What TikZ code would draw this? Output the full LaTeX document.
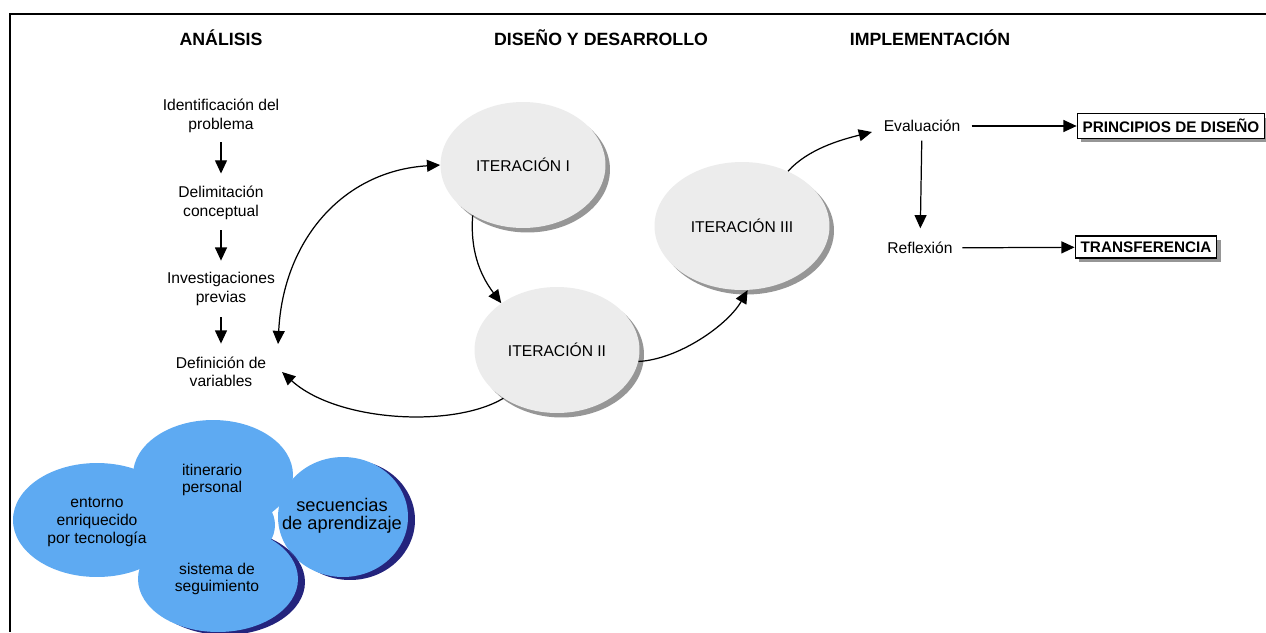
\documentclass[tikz,border=0pt]{standalone}
\usepackage{fontspec}
\setmainfont{Liberation Sans}
\usetikzlibrary{arrows.meta,shapes.geometric,calc,shadows}
\definecolor{cloudblue}{RGB}{94,170,242}
\definecolor{cloudshadow}{RGB}{36,36,125}
\definecolor{ellgray}{RGB}{236,236,236}
\definecolor{ellshadow}{RGB}{150,150,150}
\begin{document}
\begin{tikzpicture}[x=0.02cm,y=-0.02cm,
  txt/.style={font=\fontsize{8.9}{10.5}\selectfont, align=center, inner sep=2pt},
  ctxt/.style={font=\fontsize{8.9}{10}\selectfont, align=center, inner sep=2pt},
  hdr/.style={font=\fontsize{10.1}{12}\selectfont\bfseries, inner sep=2pt},
  iter/.style={ellipse, fill=ellgray, minimum width=3.3cm, minimum height=2.52cm, inner sep=0pt,
    font=\fontsize{8.9}{10.5}\selectfont,
    drop shadow={shadow xshift=0.09cm, shadow yshift=-0.09cm, fill=ellshadow, opacity=1}},
  arr/.style={-{Triangle[length=7.5pt,width=6.8pt]}, line width=0.7pt},
  darr/.style={{Triangle[length=7.5pt,width=6.8pt]}-{Triangle[length=7.5pt,width=6.8pt]}, line width=0.7pt},
  box/.style={draw, line width=0.6pt, fill=white, inner xsep=0.11cm, inner ysep=0pt,
    font=\fontsize{8.7}{10}\selectfont\bfseries,
    drop shadow={shadow xshift=0.08cm, shadow yshift=-0.08cm, fill=ellshadow, opacity=1}},
]
\useasboundingbox (0,0) rectangle (1266,632);
\fill[white] (0,0) rectangle (1266,632);

% frame
\draw[line width=1.7pt] (1266,14) -- (10,14) -- (10,632);

% headers
\node[hdr] (hA) at (221,38) {ANÁLISIS};
\node[hdr] (hD) at (601,38) {DISEÑO Y DESARROLLO};
\node[hdr] (hI) at (930,38) {IMPLEMENTACIÓN};

% analysis column
\node[txt] (p1) at (221,116) {Identificación del\\problema};
\node[txt] (p2) at (221,203) {Delimitación\\conceptual};
\node[txt] (p3) at (221,289) {Investigaciones\\previas};
\node[txt] (p4) at (221,372) {Definición de\\variables};
\draw[arr, shorten <=1.2mm, shorten >=1.8mm] (p1) -- (p2);
\draw[arr, shorten <=1.4mm, shorten >=1.6mm] (p2) -- (p3);
\draw[arr, shorten <=1.6mm, shorten >=1.9mm] (p3) -- (p4);

% iterations
\node[iter] (i1) at (523,165) {ITERACIÓN I};
\node[iter] (i2) at (557,350) {ITERACIÓN II};
\node[iter, minimum width=3.5cm, minimum height=2.56cm] (i3) at (742,226) {ITERACIÓN III};

% implementation
\node[txt] (ev) at (922,126) {Evaluación};
\node[txt] (rf) at (920,248) {Reflexión};
\node[box, minimum height=0.5cm] (pr) at (1171,126) {PRINCIPIOS DE DISEÑO};
\node[box, minimum height=0.44cm] (tr) at (1146,247) {TRANSFERENCIA};

% connectors
\draw[darr] ($(p4.north east)+(8,-9)$) .. controls +(5,-103) and +(-98,6) .. (i1.west);
\draw[arr] (i1.225) .. controls +(-3,40) and +(-18,-24) .. (i2.140);
\draw[arr] (i2.-8) .. controls +(40,-2) and +(-20,35) .. (i3.-85);
\draw[arr] (i2.222) .. controls +(-50,30) and +(55,50) .. ($(p4.east)+(12,0)$);
\draw[arr] (i3.50) .. controls +(20,-22) and +(-32,8) .. ($(ev.west)+(-8,6)$);
\draw[arr, shorten <=1.5mm] (ev) -- (pr);
\draw[arr, shorten <=1mm, shorten >=2mm] (ev) -- (rf);
\draw[arr, shorten <=1.2mm] (rf) -- (tr);

% cloud
\fill[cloudshadow] (350,520) ellipse [x radius=1.3cm, y radius=1.2cm];
\fill[cloudshadow] (225,582) ellipse [x radius=1.6cm, y radius=1.06cm];
\fill[cloudblue] (97,520) ellipse [x radius=1.68cm, y radius=1.14cm];
\fill[cloudblue] (213,475) ellipse [x radius=1.6cm, y radius=1.1cm];
\fill[cloudblue] (205,525) ellipse [x radius=1.4cm, y radius=0.9cm];
\fill[cloudblue] (343,517) ellipse [x radius=1.3cm, y radius=1.2cm];
\begin{scope}
  \clip (343,517) ellipse [x radius=1.3cm, y radius=1.2cm];
  \fill[cloudshadow] (225,582) ellipse [x radius=1.6cm, y radius=1.06cm];
\end{scope}
\fill[cloudblue] (218,579) ellipse [x radius=1.6cm, y radius=1.06cm];

\node[ctxt] (c1) at (97,522) {entorno\\enriquecido\\por tecnología};
\node[ctxt] (c2) at (212,480) {itinerario\\personal};
\node[ctxt, font=\fontsize{10.4}{10}\selectfont] (c3) at (342,516) {secuencias\\de aprendizaje};
\node[ctxt] (c4) at (217,579) {sistema de\\seguimiento};
\end{tikzpicture}
\end{document}
